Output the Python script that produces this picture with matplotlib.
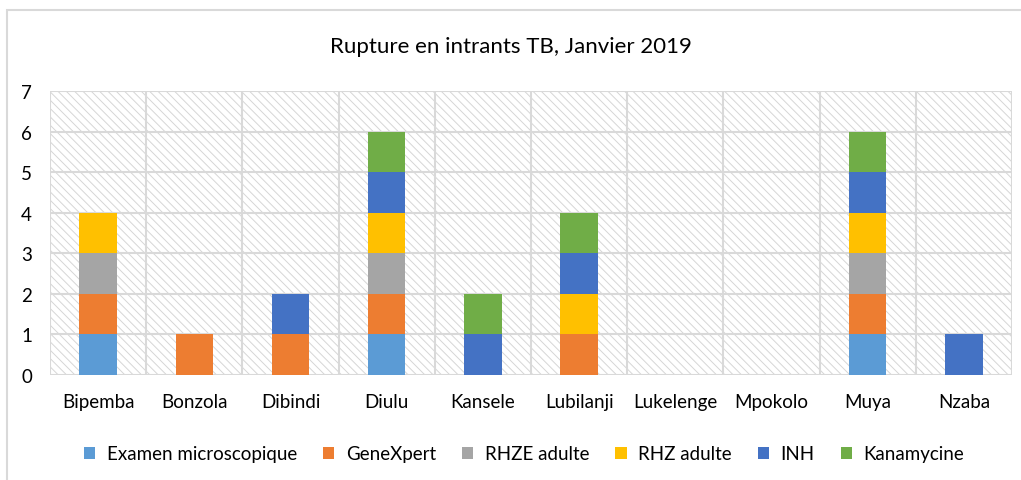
import matplotlib.pyplot as plt
from matplotlib.patches import Rectangle
import numpy as np

# data
sites = ["Bipemba", "Bonzola", "Dibindi", "Diulu", "Kansele", "Lubilanji",
         "Lukelenge", "Mpokolo", "Muya", "Nzaba"]
examen = [1, 0, 0, 1, 0, 0, 0, 0, 1, 0]
genexpert = [1, 1, 1, 1, 0, 1, 0, 0, 1, 0]
rhze = [1, 0, 0, 1, 0, 0, 0, 0, 1, 0]
rhz = [1, 0, 0, 1, 0, 1, 0, 0, 1, 0]
inh = [0, 0, 1, 1, 1, 1, 0, 0, 1, 1]
kana = [0, 0, 0, 1, 1, 1, 0, 0, 1, 0]

series = [("Examen microscopique", examen, "#5B9BD5"),
          ("GeneXpert", genexpert, "#ED7D31"),
          ("RHZE adulte", rhze, "#A5A5A5"),
          ("RHZ adulte", rhz, "#FFC000"),
          ("INH", inh, "#4472C4"),
          ("Kanamycine", kana, "#70AD47")]

plt.rcParams['font.family'] = ['Lato', 'DejaVu Sans']
plt.rcParams['hatch.linewidth'] = 0.7
plt.rcParams['hatch.color'] = '#d6d6d6'

fig = plt.figure(figsize=(10.21, 4.81), dpi=100)
ax = fig.add_axes([50/1021, 1-376/481, (1012-50)/1021, (376-92)/481])

# outer chart frame
fig.add_artist(Rectangle((7/1021, -0.1), 1.2, 1-11/481+0.1, transform=fig.transFigure,
                         fill=False, edgecolor='#d9d9d9', lw=1.5))

x = np.arange(len(sites))
# hatched plot background
ax.add_patch(Rectangle((0, 0), 1, 1, transform=ax.transAxes, facecolor='white',
                       hatch='\\\\\\\\', edgecolor='#d6d6d6', lw=0, zorder=0))

bottom = np.zeros(len(sites))
for name, vals, col in series:
    ax.bar(x, vals, 0.39, bottom=bottom, color=col, label=name, zorder=3)
    bottom += np.array(vals)

ax.set_xlim(-0.5, len(sites) - 0.5)
ax.set_ylim(0, 7)
ax.set_yticks(range(8))
ax.set_xticks(x)
ax.set_xticklabels(sites)
for k in range(len(sites) + 1):
    ax.axvline(k - 0.5, color='#d9d9d9', lw=1.5, zorder=1)
for k in range(8):
    ax.axhline(k, color='#d9d9d9', lw=1.5, zorder=1)
for s in ax.spines.values():
    s.set_visible(False)
ax.tick_params(length=0, labelsize=13.5, colors='#000000')
ax.tick_params(axis='x', pad=13)
ax.tick_params(axis='y', pad=13)

fig.text(0.5, 1-47/481, "Rupture en intrants TB, Janvier 2019", ha='center', va='center',
         fontsize=16)

ax.legend(loc='center', bbox_to_anchor=(524/1021, 1-455/481), bbox_transform=fig.transFigure,
          ncol=6, frameon=False, fontsize=13.5, handlelength=0.6, handleheight=0.6,
          columnspacing=1.4, handletextpad=0.6)

fig.savefig("out.png", dpi=100)
